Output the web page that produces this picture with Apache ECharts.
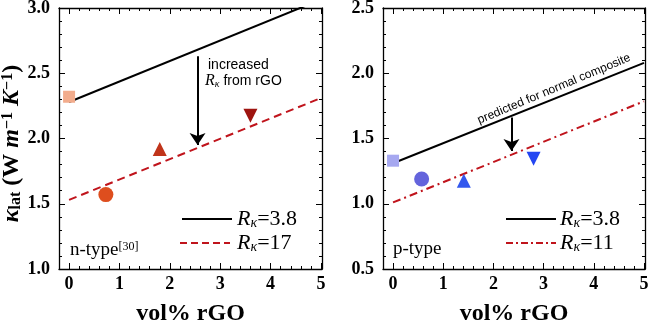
<!DOCTYPE html>
<html><head><meta charset="utf-8">
<script src="https://cdn.jsdelivr.net/npm/echarts@6/dist/echarts.min.js"></script>
<style>html,body{margin:0;padding:0;background:#fff}#c{width:650px;height:322px}</style>
</head><body><div id="c"></div>
<script>
// ---- data ----
const xMajor = [0, 1, 2, 3, 4, 5];
const nYMajor = [1.0, 1.5, 2.0, 2.5, 3.0];
const pYMajor = [0.5, 1.0, 1.5, 2.0, 2.5];
const nPointsX = [0, 0.73, 1.8, 3.6];
const nPointsY = [2.32, 1.57, 1.92, 2.175];
const pPointsX = [0, 0.57, 1.41, 2.8];
const pPointsY = [1.33, 1.19, 1.176, 1.344];
const nLine38 = [[0, 2.28], [5, 3.065]];
const nLine17 = [[0, 1.53], [5, 2.31]];
const pLine38 = [[0, 1.31], [5, 2.08]];
const pLine11 = [[0, 1.01], [5, 1.785]];
const nArrow = [[2.55, 2.63], [2.55, 1.95]];
const pArrow = [[2.36, 1.66], [2.36, 1.405]];

// ---- styles ----
const serif = 'Liberation Serif';
const sans = 'Liberation Sans';
const nColors = ['#F2AC8C', '#DE4E1E', '#C0341A', '#9E1410'];
const pColors = ['#A6A8F0', '#6464DC', '#3358EE', '#2446F2'];
const symbols = ['rect', 'circle', 'triangle', 'triangle'];
const symRot = [0, 0, 0, 180];
const symSize = [12, 15, 14, 14];
const red = '#C0141C';
const xMin = -0.2, xMax = 5.02;
const lineOn = {show: true, onZero: false, lineStyle: {color: '#000', width: 1.3}};
const lineOff = {show: false, onZero: false};

function xAxes(gi) {
  const base = {gridIndex: gi, type: 'value', min: xMin, max: xMax, interval: 0.2, splitLine: {show: false}};
  const lab = {customValues: xMajor, fontFamily: serif, fontWeight: 'bold', fontSize: 18, color: '#000', margin: 6};
  return [
    Object.assign({}, base, {position: 'bottom', axisLine: lineOn,
      axisTick: {show: true, inside: true, length: 3, lineStyle: {color: '#000', width: 1}},
      axisLabel: lab,
      name: 'vol% rGO', nameLocation: 'middle', nameGap: 33,
      nameTextStyle: {fontFamily: serif, fontWeight: 'bold', fontSize: 24, color: '#000'}}),
    Object.assign({}, base, {position: 'bottom', axisLine: lineOff,
      axisTick: {show: true, inside: true, length: 6, customValues: xMajor, lineStyle: {color: '#000', width: 1}},
      axisLabel: {show: false}}),
    Object.assign({}, base, {position: 'top', axisLine: lineOn,
      axisTick: {show: true, inside: true, length: 3, lineStyle: {color: '#000', width: 1}},
      axisLabel: {show: false}}),
    Object.assign({}, base, {position: 'top', axisLine: lineOff,
      axisTick: {show: true, inside: true, length: 6, customValues: xMajor, lineStyle: {color: '#000', width: 1}},
      axisLabel: {show: false}})
  ];
}
function yAxes(gi, majors, name) {
  const base = {gridIndex: gi, type: 'value', min: majors[0], max: majors[majors.length - 1], interval: 0.1, splitLine: {show: false}};
  const lab = {customValues: majors, formatter: v => v.toFixed(1), fontFamily: serif, fontWeight: 'bold', fontSize: 18, color: '#000', margin: 9};
  const first = Object.assign({}, base, {position: 'left', axisLine: lineOn,
    axisTick: {show: true, inside: true, length: 3, lineStyle: {color: '#000', width: 1}},
    axisLabel: lab});
  if (name) {
    Object.assign(first, {
      name: '{k|κ}{s|lat}{n| (W }{i|m}{p|−1}{n| }{i|K}{p|−1}{n|)}',
      nameLocation: 'middle', nameRotate: 90, nameGap: 34,
      nameTextStyle: {color: '#000', padding: [0, 0, 0, -10], rich: {
        k: {fontFamily: serif, fontWeight: 'bold', fontStyle: 'italic', fontSize: 24, color: '#000'},
        s: {fontFamily: serif, fontWeight: 'bold', fontSize: 16, color: '#000', verticalAlign: 'bottom', lineHeight: 16},
        n: {fontFamily: serif, fontWeight: 'bold', fontSize: 24, color: '#000'},
        i: {fontFamily: serif, fontWeight: 'bold', fontStyle: 'italic', fontSize: 24, color: '#000'},
        p: {fontFamily: serif, fontWeight: 'bold', fontSize: 16, color: '#000', verticalAlign: 'top', lineHeight: 16}
      }}
    });
  }
  return [
    first,
    Object.assign({}, base, {position: 'left', axisLine: lineOff,
      axisTick: {show: true, inside: true, length: 6, customValues: majors, lineStyle: {color: '#000', width: 1}},
      axisLabel: {show: false}}),
    Object.assign({}, base, {position: 'right', axisLine: lineOn,
      axisTick: {show: true, inside: true, length: 3, lineStyle: {color: '#000', width: 1}},
      axisLabel: {show: false}}),
    Object.assign({}, base, {position: 'right', axisLine: lineOff,
      axisTick: {show: true, inside: true, length: 6, customValues: majors, lineStyle: {color: '#000', width: 1}},
      axisLabel: {show: false}})
  ];
}

function lineSeries(ai, data, color, type, arrow) {
  const s = {type: 'line', xAxisIndex: ai, yAxisIndex: ai, data: data, showSymbol: false, symbol: 'none',
    clip: true, silent: true, z: 2,
    lineStyle: {color: color, width: 2, type: type}};
  if (arrow) {
    s.markLine = {silent: true, symbol: ['none', 'arrow'], symbolSize: 12,
      label: {show: false},
      lineStyle: {color: '#000', width: 2, type: 'solid'},
      data: [[{coord: arrow[0]}, {coord: arrow[1]}]]};
  }
  return s;
}
function pointSeries(ai, xs, ys, colors) {
  return xs.map((x, i) => ({type: 'scatter', xAxisIndex: ai, yAxisIndex: ai, z: 5, silent: true,
    symbol: symbols[i], symbolRotate: symRot[i], symbolSize: symSize[i],
    itemStyle: {color: colors[i], opacity: 1},
    data: [[x, ys[i]]]}));
}

const legendRich = {
  r: {fontFamily: serif, fontStyle: 'italic', fontSize: 22, color: '#000'},
  k: {fontFamily: serif, fontStyle: 'italic', fontSize: 14, color: '#000', verticalAlign: 'bottom', lineHeight: 14},
  n: {fontFamily: serif, fontSize: 22, color: '#000'}
};
function legendText(x, y, val) {
  return {type: 'text', x: x, y: y, style: {text: '{r|R}{k|κ}{n|=' + val + '}', rich: legendRich, verticalAlign: 'middle', align: 'left'}};
}

const option = {
  animation: false,
  backgroundColor: '#fff',
  grid: [
    {left: 59, right: 328, top: 8, bottom: 53, outerBoundsMode: 'none', containLabel: false},
    {left: 383, right: 5, top: 8, bottom: 53, outerBoundsMode: 'none', containLabel: false}
  ],
  xAxis: xAxes(0).concat(xAxes(1)),
  yAxis: yAxes(0, nYMajor, true).concat(yAxes(1, pYMajor, false)),
  series: [
    lineSeries(0, nLine38, '#000', 'solid', nArrow),
    lineSeries(0, nLine17, red, [8, 5]),
    lineSeries(4, pLine38, '#000', 'solid', pArrow),
    lineSeries(4, pLine11, red, [8, 4, 2, 4])
  ].concat(pointSeries(0, nPointsX, nPointsY, nColors), pointSeries(4, pPointsX, pPointsY, pColors)),
  graphic: [
    {type: 'line', shape: {x1: 182, y1: 219, x2: 232, y2: 219}, style: {stroke: '#000', lineWidth: 2}},
    {type: 'line', shape: {x1: 180, y1: 243, x2: 230, y2: 243}, style: {stroke: red, lineWidth: 2, lineDash: [7, 4]}},
    legendText(237, 219, '3.8'),
    legendText(237, 243, '17'),
    {type: 'line', shape: {x1: 506, y1: 219, x2: 556, y2: 219}, style: {stroke: '#000', lineWidth: 2}},
    {type: 'line', shape: {x1: 506, y1: 243, x2: 556, y2: 243}, style: {stroke: red, lineWidth: 2, lineDash: [7, 3, 2, 3]}},
    legendText(560, 219, '3.8'),
    legendText(560, 243, '11'),
    {type: 'text', x: 70, y: 250, style: {text: '{a|n-type}{b|[30]}', verticalAlign: 'middle', rich: {
      a: {fontFamily: serif, fontSize: 19, color: '#000'},
      b: {fontFamily: serif, fontSize: 12, color: '#000', verticalAlign: 'top', lineHeight: 12}}}},
    {type: 'text', x: 393, y: 249, style: {text: 'p-type', fontFamily: serif, fontSize: 19, fill: '#000', verticalAlign: 'middle'}},
    {type: 'text', x: 208, y: 65, style: {text: 'increased', fontFamily: sans, fontSize: 14, fill: '#000', verticalAlign: 'middle'}},
    {type: 'text', x: 205, y: 81, style: {text: '{r|R}{k|κ}{s| from rGO}', verticalAlign: 'middle', rich: {
      r: {fontFamily: serif, fontStyle: 'italic', fontSize: 16, color: '#000'},
      k: {fontFamily: serif, fontStyle: 'italic', fontSize: 10, color: '#000', verticalAlign: 'bottom', lineHeight: 10},
      s: {fontFamily: sans, fontSize: 14, color: '#000'}}}},
    {type: 'text', x: 554, y: 89, rotation: 22.7 * Math.PI / 180, style: {text: 'predicted for normal composite', fontFamily: sans, fontSize: 12, fill: '#000', align: 'center', verticalAlign: 'middle'}}
  ]
};
const chart = echarts.init(document.getElementById('c'), null, {renderer: 'canvas'});
chart.setOption(option);
</script></body></html>
